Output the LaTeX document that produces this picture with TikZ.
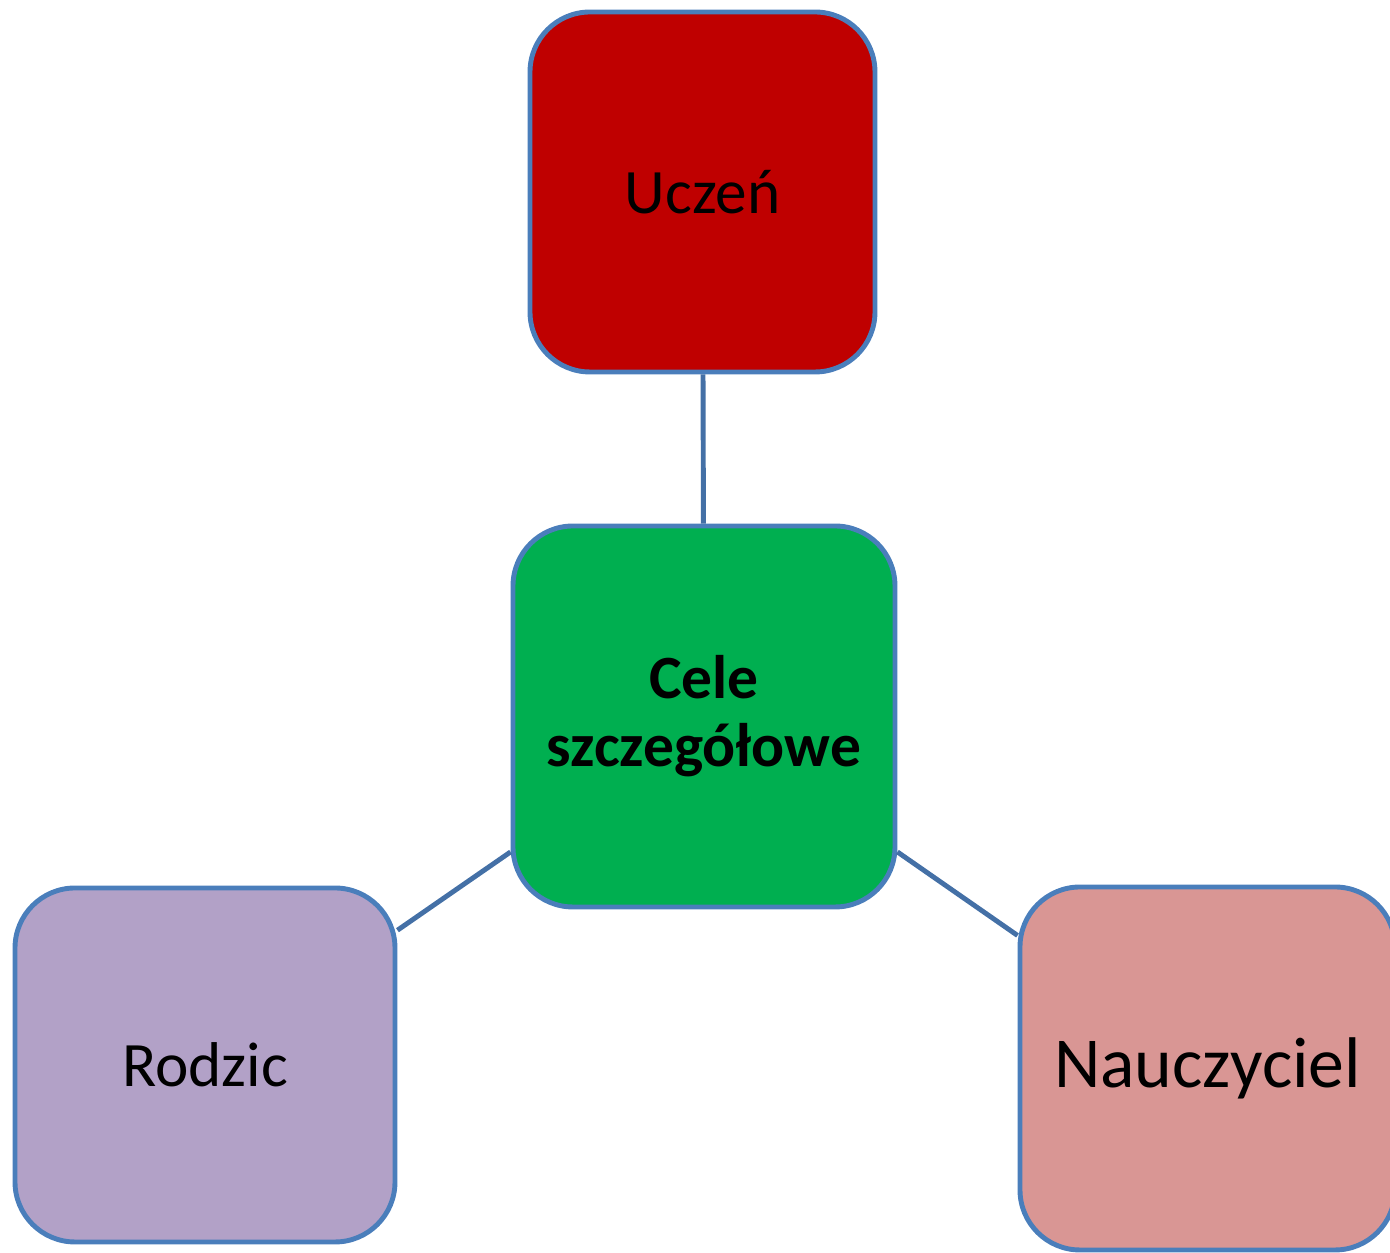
\documentclass[tikz,border=0pt]{standalone}
\usepackage{fontspec}
\setmainfont{Carlito}
\usepackage{xcolor}
\usepackage{tikz}
\definecolor{ramka}{HTML}{4A7EBB}
\definecolor{linia}{HTML}{4470A6}
\definecolor{czerwony}{HTML}{BF0000}
\definecolor{zielony}{HTML}{00AF50}
\definecolor{fiolet}{HTML}{B2A1C7}
\definecolor{roz}{HTML}{D99694}
\tikzset{
    kotek/.style={draw=ramka, line width=1.4pt, rounded corners=0.6cm,
        align=center, inner sep=0pt, font=\fontsize{18}{19.5}\selectfont},
    polacz/.style={draw=linia, line width=1.4pt}
}

\begin{document}
\begin{tikzpicture}
        %GRID
        %\draw[lightgray] (0,0) grid (14,13);
        \useasboundingbox (0,0) rectangle (13.9,12.53);

        %PUDELKA
        \node[kotek, fill=czerwony, minimum width=3.45cm, minimum height=3.6cm] (uczen) at (7.025,10.61) {Ucze\'n};
        \node[kotek, fill=zielony, minimum width=3.82cm, minimum height=3.81cm,
            font=\fontsize{17.5}{19.4}\selectfont\bfseries] (cele) at (7.04,5.365) {Cele\\szczeg\'o\l{}owe};
        \node[kotek, fill=fiolet, minimum width=3.8cm, minimum height=3.54cm] (rodzic) at (2.05,1.88) {Rodzic};
        \node[kotek, fill=roz, minimum width=3.75cm, minimum height=3.63cm,
            font=\fontsize{20.4}{22}\selectfont] (nauczyciel) at (12.075,1.845) {Nauczyciel};

        %LINIE
        \draw[polacz] (uczen) -- (cele);
        \draw[polacz] (cele.215) -- (rodzic.35);
        \draw[polacz] (cele.-35) -- (nauczyciel.145);
    \end{tikzpicture}
\end{document}
